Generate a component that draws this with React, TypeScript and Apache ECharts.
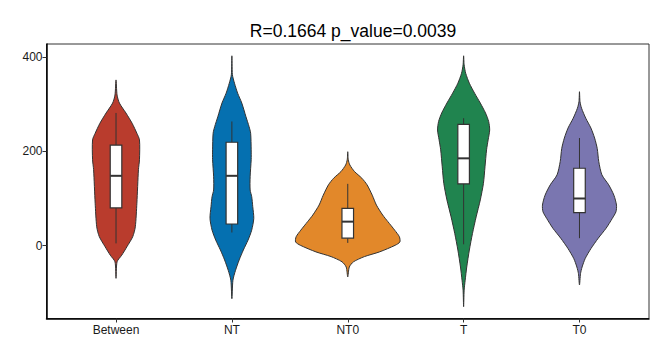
import React, { useEffect, useRef } from "react";
import * as echarts from "echarts";

const categories = ["Between", "NT", "NT0", "T", "T0"];
const colors = ["#B93C2D", "#0570B0", "#E2882A", "#20844F", "#7A76B0"];
const titleText = "R=0.1664 p_value=0.0039";
const yTicks = [0, 200, 400];
const xPositions = [1, 2, 3, 4, 5];

// violin density profiles: [value, relative density (1 = widest)], top to bottom
const betweenDensity = [
  [351, 0], [319, 0.02], [302, 0.065], [281, 0.19], [259, 0.31], [238, 0.4], [224, 0.45],
  [182, 0.45], [161, 0.43], [90, 0.4], [40, 0.37], [19, 0.32], [-2, 0.21], [-20, 0.11],
  [-34, 0.02], [-69, 0],
];
const ntDensity = [
  [402, 0], [362, 0.01], [344, 0.05], [323, 0.11], [302, 0.19], [273, 0.27], [252, 0.33],
  [238, 0.36], [203, 0.37], [182, 0.37], [146, 0.35], [118, 0.35], [104, 0.38], [83, 0.4],
  [58, 0.42], [33, 0.38], [12, 0.31], [-9, 0.22], [-30, 0.14], [-52, 0.07], [-73, 0.02],
  [-112, 0],
];
const nt0Density = [
  [199, 0], [182, 0.01], [171, 0.04], [157, 0.13], [143, 0.27], [129, 0.37], [107, 0.47],
  [86, 0.55], [65, 0.67], [51, 0.77], [33, 0.9], [19, 0.99], [8, 1.0], [1, 0.91],
  [-13, 0.61], [-23, 0.32], [-34, 0.11], [-45, 0.03], [-66, 0],
];
const tDensity = [
  [402, 0], [383, 0.01], [365, 0.04], [344, 0.11], [323, 0.21], [302, 0.32], [281, 0.42],
  [263, 0.48], [245, 0.5], [224, 0.47], [203, 0.44], [167, 0.41], [132, 0.38], [97, 0.32],
  [61, 0.24], [26, 0.17], [-9, 0.11], [-45, 0.06], [-73, 0.03], [-94, 0.01], [-129, 0],
];
const t0Density = [
  [326, 0], [305, 0.01], [291, 0.04], [270, 0.12], [249, 0.22], [228, 0.29], [206, 0.34],
  [178, 0.37], [150, 0.43], [129, 0.56], [107, 0.66], [86, 0.71], [72, 0.7], [58, 0.63],
  [37, 0.51], [16, 0.36], [-6, 0.22], [-27, 0.11], [-45, 0.05], [-59, 0.02], [-83, 0],
];
const densities = [betweenDensity, ntDensity, nt0Density, tDensity, t0Density];

// box statistics: [lower whisker, Q1, median, Q3, upper whisker]
const boxStats = [
  [5, 80, 148, 213, 281],
  [28, 46, 148, 219, 263],
  [6, 16, 51, 79, 131],
  [3, 131, 185, 257, 270],
  [16, 70, 100, 164, 228],
];

const FONT = "'Liberation Sans', Arial, sans-serif";
const VIOLIN_HALF = 0.45;
const BOX_HALF = 0.05;
const INK = "#333333";

export default function App() {
  const ref = useRef<HTMLDivElement>(null);
  useEffect(() => {
    if (!ref.current) return;
    const chart = echarts.init(ref.current, null, { renderer: "svg" });
    const option: any = {
      animation: false,
      backgroundColor: "#ffffff",
      title: {
        text: titleText,
        left: 348,
        top: 17,
        textAlign: "center",
        textStyle: { fontFamily: FONT, fontSize: 17.5, fontWeight: "normal", color: "#000" },
      },
      grid: {
        left: 46.5,
        right: 19,
        top: 44,
        bottom: 40.5,
        show: true,
        borderColor: INK,
        borderWidth: 1,
        outerBoundsMode: "none",
        containLabel: false,
      },
      xAxis: {
        type: "value",
        min: 0.4,
        max: 5.6,
        axisLine: { show: true, onZero: false, lineStyle: { color: "#000", width: 1.5 } },
        axisTick: { show: true, customValues: xPositions, length: 4, lineStyle: { color: INK } },
        axisLabel: {
          customValues: xPositions,
          formatter: (v: number) => categories[Math.round(v) - 1] ?? "",
          color: "#1a1a1a",
          fontSize: 12,
          fontFamily: FONT,
          margin: 5,
        },
        splitLine: { show: false },
      },
      yAxis: {
        type: "value",
        min: -154,
        max: 427,
        axisLine: { show: true, onZero: false, lineStyle: { color: "#000", width: 1.5 } },
        axisTick: { show: true, customValues: yTicks, length: 4, lineStyle: { color: INK } },
        axisLabel: {
          customValues: yTicks,
          color: "#1a1a1a",
          fontSize: 12,
          fontFamily: FONT,
          margin: 4,
        },
        splitLine: { show: false },
      },
      series: [
        {
          type: "custom",
          data: xPositions.map((p) => [p]),
          renderItem: (params: any, api: any) => {
            const i = params.dataIndex;
            const pos = xPositions[i];
            const dens = densities[i];
            const right = dens.map(([v, d]) => api.coord([pos + d * VIOLIN_HALF, v]));
            const left = dens
              .slice(1, -1)
              .reverse()
              .map(([v, d]) => api.coord([pos - d * VIOLIN_HALF, v]));
            const [lo, q1, med, q3, hi] = boxStats[i];
            const tl = api.coord([pos - BOX_HALF, q3]);
            const br = api.coord([pos + BOX_HALF, q1]);
            const cTop = api.coord([pos, hi]);
            const cBot = api.coord([pos, lo]);
            const mL = api.coord([pos - BOX_HALF, med]);
            const mR = api.coord([pos + BOX_HALF, med]);
            return {
              type: "group",
              children: [
                {
                  type: "polygon",
                  shape: { points: right.concat(left), smooth: 0.25 },
                  style: { fill: colors[i], stroke: INK, lineWidth: 1 },
                },
                {
                  type: "line",
                  shape: { x1: cTop[0], y1: cTop[1], x2: cBot[0], y2: cBot[1] },
                  style: { stroke: INK, lineWidth: 1 },
                },
                {
                  type: "rect",
                  shape: { x: tl[0], y: tl[1], width: br[0] - tl[0], height: br[1] - tl[1] },
                  style: { fill: "#ffffff", stroke: INK, lineWidth: 1.2 },
                },
                {
                  type: "line",
                  shape: { x1: mL[0], y1: mL[1], x2: mR[0], y2: mR[1] },
                  style: { stroke: INK, lineWidth: 2 },
                },
              ],
            };
          },
        },
      ],
    };
    chart.setOption(option);
    return () => chart.dispose();
  }, []);
  return (
    <div
      ref={ref}
      style={{ position: "fixed", left: 0, top: 0, width: 668, height: 359, background: "#fff" }}
    />
  );
}
